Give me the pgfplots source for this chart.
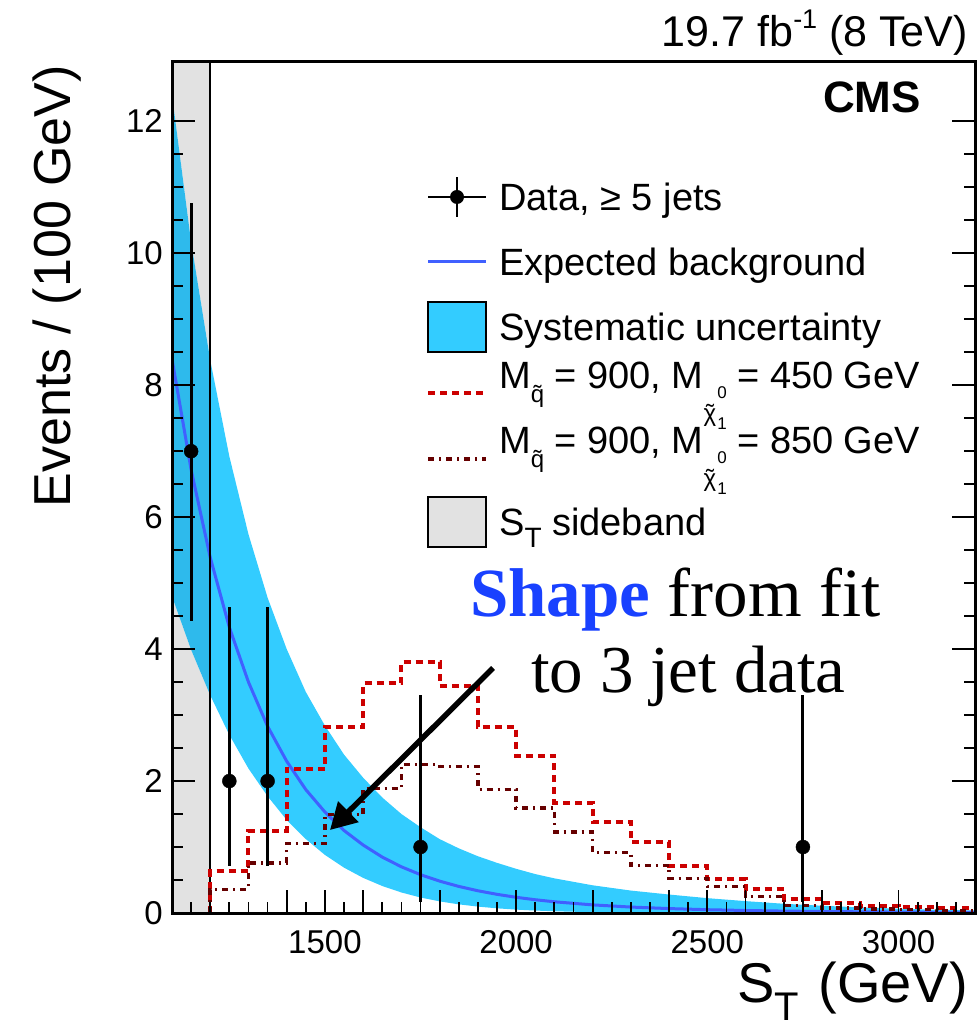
\documentclass[border=0pt]{standalone}
\usepackage{pgfplots}
\pgfplotsset{compat=1.18}
\usepackage{fontspec}
\setmainfont{Liberation Sans}
\newfontfamily\seriffont{Liberation Serif}
\usetikzlibrary{arrows.meta}

\definecolor{bandc}{RGB}{51,204,255}
\definecolor{bandd}{RGB}{46,186,236}
\definecolor{bgline}{RGB}{64,96,255}
\definecolor{sigA}{RGB}{204,0,0}
\definecolor{sigB}{RGB}{102,0,0}
\definecolor{shapeblue}{RGB}{25,65,255}
\definecolor{sideb}{RGB}{226,226,226}

\newcommand{\tq}{\ooalign{q\cr\hidewidth ˜\hidewidth\cr}}
\newcommand{\tchi}{\ooalign{χ\cr\hidewidth ˜\hidewidth\cr}}
\newcommand{\Msq}{M\raisebox{-14pt}{\fontsize{24}{24}\selectfont\tq}}
\newcommand{\Mchi}{M\raisebox{-33pt}{\fontsize{24}{24}\selectfont\tchi}\hspace{1pt}\rlap{\raisebox{-10pt}{\fontsize{17}{17}\selectfont 0}}\raisebox{-41pt}{\fontsize{17}{17}\selectfont 1}}

\begin{document}
\begin{tikzpicture}
\useasboundingbox (0pt,0pt) rectangle (978pt,1031pt);
\begin{axis}[
  at={(172pt,118pt)}, anchor=south west,
  width=803pt, height=851pt, scale only axis,
  xmin=1100, xmax=3200, ymin=0, ymax=12.9,
  axis on top,
  axis line style={line width=3pt},
  tick align=inside,
  xtick pos=left, ytick pos=both, yticklabel pos=left,
  xtick={1400,1500,1600,1800,2000,2200,2400,2500,2600,2800,3000},
  xticklabels={,1500,,,2000,,,2500,,,3000},
  minor xtick={1150,1200,...,3150},
  ytick={0,2,...,12},
  yticklabels={0,2,4,6,8,10,12},
  minor y tick num=3,
  major tick length=23pt, minor tick length=11pt,
  tick style={line width=1.8pt, black},
  tick label style={font=\fontsize{33}{33}\selectfont, inner sep=0pt},
  xticklabel style={yshift=-17pt},
  yticklabel style={xshift=-9pt},
  xlabel={S\raisebox{-18pt}{\fontsize{40}{40}\selectfont T}\hspace{4pt} (GeV)},
  x label style={at={(axis description cs:0.9913,-0.1046)}, anchor=base east, inner sep=0pt, font=\fontsize{56}{56}\selectfont},
  ylabel={Events / (100 GeV)},
  y label style={at={(axis description cs:-0.1258,0.9965)}, anchor=base east, inner sep=0pt, font=\fontsize{52}{52}\selectfont},
]
% S_T sideband: parts above and below the band
\addplot[fill=sideb, draw=none]
 coordinates {(1100,12.9) (1100,12.40) (1150,10.17) (1200,8.38) (1200,12.9)};
\addplot[fill=sideb, draw=none]
 coordinates {(1100,0) (1100,4.80) (1150,3.99) (1200,3.30) (1200,0)};
% systematic uncertainty band inside the sideband
\addplot[fill=bandd, draw=none] coordinates {
 (1100,12.40) (1150,10.17) (1200,8.38) (1200,3.30) (1150,3.99) (1100,4.80)
};
% systematic uncertainty band
\addplot[fill=bandc, draw=none] coordinates {
 (1200,8.38) (1250,6.92) (1300,5.74) (1350,4.78) (1400,4.00)
 (1450,3.35) (1500,2.84) (1550,2.40) (1600,2.05) (1650,1.75) (1700,1.50) (1750,1.30)
 (1800,1.12) (1850,0.98) (1900,0.86) (1950,0.76) (2000,0.67) (2050,0.59) (2100,0.525)
 (2200,0.42) (2300,0.34) (2400,0.28) (2500,0.225) (2600,0.18) (2700,0.14) (2800,0.11)
 (2900,0.085) (3000,0.066) (3100,0.050) (3200,0.038)
 (3200,0.0) (2600,0.001) (2400,0.003) (2300,0.006) (2200,0.013) (2100,0.026) (2050,0.037)
 (2000,0.051) (1950,0.071) (1900,0.097) (1850,0.131) (1800,0.176) (1750,0.235) (1700,0.311)
 (1650,0.409) (1600,0.532) (1550,0.687) (1500,0.88) (1450,1.12) (1400,1.41) (1350,1.77)
 (1300,2.19) (1250,2.70) (1200,3.30)
};
% expected background
\addplot[bgline, line width=3pt] coordinates {
 (1100,8.40) (1150,6.72) (1200,5.39) (1250,4.33) (1300,3.50) (1350,2.83) (1400,2.30)
 (1450,1.87) (1500,1.53) (1550,1.25) (1600,1.03) (1650,0.847) (1700,0.700) (1750,0.581)
 (1800,0.483) (1850,0.403) (1900,0.337) (1950,0.283) (2000,0.238) (2050,0.201) (2100,0.170)
 (2200,0.123) (2300,0.090) (2400,0.067) (2500,0.050) (2600,0.038) (2700,0.029) (2800,0.023)
 (2900,0.018) (3000,0.014) (3100,0.011) (3200,0.009)
};
% S_T sideband (edge)
\addplot[black, line width=2.5pt] coordinates {(1200,0) (1200,12.9)};
% signal 900/450
\addplot[const plot, sigA, line width=4pt, dash pattern=on 7pt off 5pt] coordinates {
 (1200,0) (1200,0.63) (1300,1.24) (1400,2.19) (1500,2.82) (1600,3.48) (1700,3.80) (1800,3.44)
 (1900,2.82) (2000,2.38) (2100,1.67) (2200,1.38) (2300,1.08) (2400,0.72) (2500,0.52) (2600,0.36)
 (2700,0.21) (2800,0.155) (2900,0.11) (3000,0.088) (3100,0.08) (3200,0.08)
};
% signal 900/850
\addplot[const plot, sigB, line width=3.5pt, dash pattern=on 6pt off 5pt on 2pt off 5pt] coordinates {
 (1200,0) (1200,0.36) (1300,0.76) (1400,1.05) (1500,1.49) (1600,1.89) (1700,2.25) (1800,2.22)
 (1900,1.87) (2000,1.59) (2100,1.23) (2200,0.92) (2300,0.72) (2400,0.52) (2500,0.40) (2600,0.25)
 (2700,0.11) (2800,0.075) (2900,0.06) (3000,0.05) (3100,0.04) (3200,0.04)
};
% data
\addplot[only marks, mark=*, mark size=7pt, black,
  error bars/.cd, y dir=both, y explicit, error mark=none,
  error bar style={line width=3pt, black}] coordinates {
 (1150,7) += (0,3.77) -= (0,2.58)
 (1250,2) += (0,2.64) -= (0,1.29)
 (1350,2) += (0,2.64) -= (0,1.29)
 (1750,1) += (0,2.30) -= (0,0.83)
 (2750,1) += (0,2.30) -= (0,0.83)
};
\end{axis}
% ---- legend (drawn by hand) ----
\begin{scope}[font=\fontsize{38}{38}\selectfont]
 \draw[black, line width=2.5pt] (428pt,834pt) -- (486pt,834pt);
 \draw[black, line width=2.5pt] (457pt,814pt) -- (457pt,854pt);
 \fill[black] (457pt,834pt) circle (7pt);
 \node[anchor=base west, inner sep=0pt] at (499pt,820.5pt) {Data, ≥ 5 jets};
 \draw[bgline, line width=3pt] (428pt,769pt) -- (486pt,769pt);
 \node[anchor=base west, inner sep=0pt] at (499pt,755.5pt) {Expected background};
 \draw[fill=bandc, draw=black, line width=2.5pt] (428pt,679pt) rectangle (486pt,729pt);
 \node[anchor=base west, inner sep=0pt] at (499pt,690.5pt) {Systematic uncertainty};
 \draw[sigA, line width=4pt, dash pattern=on 7pt off 5pt] (428pt,638pt) -- (486pt,638pt);
 \node[anchor=base west, inner sep=0pt] at (499pt,642.5pt) {\Msq{} = 900, \Mchi{} = 450 GeV};
 \draw[sigB, line width=3.5pt, dash pattern=on 6pt off 5pt on 2pt off 5pt] (428pt,572pt) -- (486pt,572pt);
 \node[anchor=base west, inner sep=0pt] at (499pt,577.5pt) {\Msq{} = 900, \Mchi{} = 850 GeV};
 \draw[fill=sideb, draw=black, line width=2.5pt] (428pt,484pt) rectangle (486pt,534pt);
 \node[anchor=base west, inner sep=0pt] at (499pt,495.5pt) {S\raisebox{-12pt}{\fontsize{28}{28}\selectfont T} sideband};
\end{scope}
% annotations
\node[anchor=base east, inner sep=0pt, font=\fontsize{43}{43}\selectfont] at (968pt,984pt)
  {19.7 fb\raisebox{0.42em}{\fontsize{27}{27}\selectfont -1} (8 TeV)};
\node[anchor=base east, inner sep=0pt, font=\fontsize{44}{44}\selectfont\bfseries] at (921pt,918pt) {CMS};
\node[anchor=base west, inner sep=0pt, font=\fontsize{69}{69}\seriffont] at (470pt,414pt)
  {{\bfseries\color{shapeblue}Shape} from fit};
\node[anchor=base west, inner sep=0pt, font=\fontsize{67}{67}\seriffont] at (531pt,338pt)
  {to 3 jet data};
\draw[black, line width=5.5pt, -{Triangle[length=26pt,width=28pt]}] (493pt,363pt) -- (330pt,201pt);
\end{tikzpicture}
\end{document}
